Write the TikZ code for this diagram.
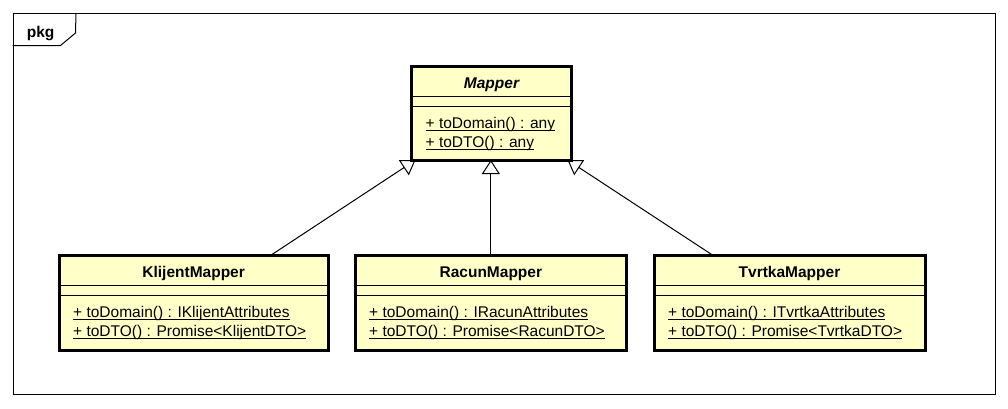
\documentclass[tikz,border=0pt]{standalone}
\usepackage{fontspec}
\setmainfont{Liberation Sans}
\usetikzlibrary{arrows.meta}
\pgfdeclarelayer{bg}
\pgfsetlayers{bg,main}
\definecolor{clsfill}{HTML}{FFFFC8}
\newcommand\ulx[1]{\setbox0=\hbox{#1}\leavevmode\rlap{\rule[-2.6pt]{\wd0}{1pt}}\box0}
\begin{document}
\begin{tikzpicture}[x=1pt,y=-1pt,
  every node/.style={font=\fontsize{15.5}{19}\selectfont, inner sep=0pt},
  frm/.style={draw=black, line width=1pt, minimum width=982pt, minimum height=380.5pt},
  cls/.style={draw=black, fill=clsfill, line width=3pt, outer sep=0pt, minimum height=94.3pt},
  ttl/.style={anchor=base, font=\fontsize{15.5}{19}\selectfont\bfseries},
  mth/.style={anchor=base west},
  sep/.style={draw=black, line width=1pt},
  inh/.style={draw=black, line width=1pt, -{Triangle[length=14pt, width=18pt, fill=white, line width=1pt]}}
  ]
\useasboundingbox (0,0) rectangle (1008,408);
% package frame
\node[frm] (pkg) at (504,203.75) {};
\draw[line width=1pt] (pkg.north west) ++(0,-32.5pt) -- ++(48pt,0) -- ++(15pt,12.5pt) -- (pkg.north west -| 76,0);
\node[anchor=base west, font=\fontsize{15.5}{19}\selectfont\bfseries] (pkglbl) at (26.7,37.3) {pkg};

% Mapper
\node[cls, minimum width=160pt, minimum height=93.5pt] (mp) at (491.5,113.25) {};
\node[ttl, font=\fontsize{15.5}{19}\selectfont\bfseries\itshape] (mpt) at ([yshift=-21.5pt]mp.north) {Mapper};
\draw[sep] ([yshift=-29.5pt]mp.north west) -- ([yshift=-29.5pt]mp.north east);
\draw[sep] ([yshift=-40pt]mp.north west) -- ([yshift=-40pt]mp.north east);
\node[mth] (mpm1) at ([xshift=14pt,yshift=-62pt]mp.north west) {\ulx{+ toDomain() : any}};
\node[mth] (mpm2) at ([xshift=14pt,yshift=-81pt]mp.north west) {\ulx{+ toDTO() : any}};

% KlijentMapper
\node[cls, minimum width=269.3pt] (kl) at (193.65,302.85) {};
\node[ttl] (klt) at ([yshift=-21.7pt]kl.north) {KlijentMapper};
\draw[sep] ([yshift=-30pt]kl.north west) -- ([yshift=-30pt]kl.north east);
\draw[sep] ([yshift=-40pt]kl.north west) -- ([yshift=-40pt]kl.north east);
\node[mth] (klm1) at ([xshift=14pt,yshift=-62pt]kl.north west) {\ulx{+ toDomain() : IKlijentAttributes}};
\node[mth] (klm2) at ([xshift=14pt,yshift=-81pt]kl.north west) {\ulx{+ toDTO() : Promise<KlijentDTO>}};

% RacunMapper
\node[cls, minimum width=271.7pt] (rc) at (490.85,302.85) {};
\node[ttl] (rct) at ([yshift=-21.7pt]rc.north) {RacunMapper};
\draw[sep] ([yshift=-30pt]rc.north west) -- ([yshift=-30pt]rc.north east);
\draw[sep] ([yshift=-40pt]rc.north west) -- ([yshift=-40pt]rc.north east);
\node[mth] (rcm1) at ([xshift=14pt,yshift=-62pt]rc.north west) {\ulx{+ toDomain() : IRacunAttributes}};
\node[mth] (rcm2) at ([xshift=14pt,yshift=-81pt]rc.north west) {\ulx{+ toDTO() : Promise<RacunDTO>}};

% TvrtkaMapper
\node[cls, minimum width=271pt] (tv) at (789.5,302.85) {};
\node[ttl] (tvt) at ([yshift=-21.7pt]tv.north) {TvrtkaMapper};
\draw[sep] ([yshift=-30pt]tv.north west) -- ([yshift=-30pt]tv.north east);
\draw[sep] ([yshift=-40pt]tv.north west) -- ([yshift=-40pt]tv.north east);
\node[mth] (tvm1) at ([xshift=14pt,yshift=-62pt]tv.north west) {\ulx{+ toDomain() : ITvrtkaAttributes}};
\node[mth] (tvm2) at ([xshift=14pt,yshift=-81pt]tv.north west) {\ulx{+ toDTO() : Promise<TvrtkaDTO>}};

% generalizations
\begin{pgfonlayer}{bg}
\draw[inh] ([xshift=76.5pt]kl.north) -- ([xshift=4pt]mp.south west);
\draw[inh] (rc.north) -- (rc.north |- mp.south);
\draw[inh] ([xshift=-76pt]tv.north) -- ([xshift=-4pt]mp.south east);
\end{pgfonlayer}
\end{tikzpicture}
\end{document}
